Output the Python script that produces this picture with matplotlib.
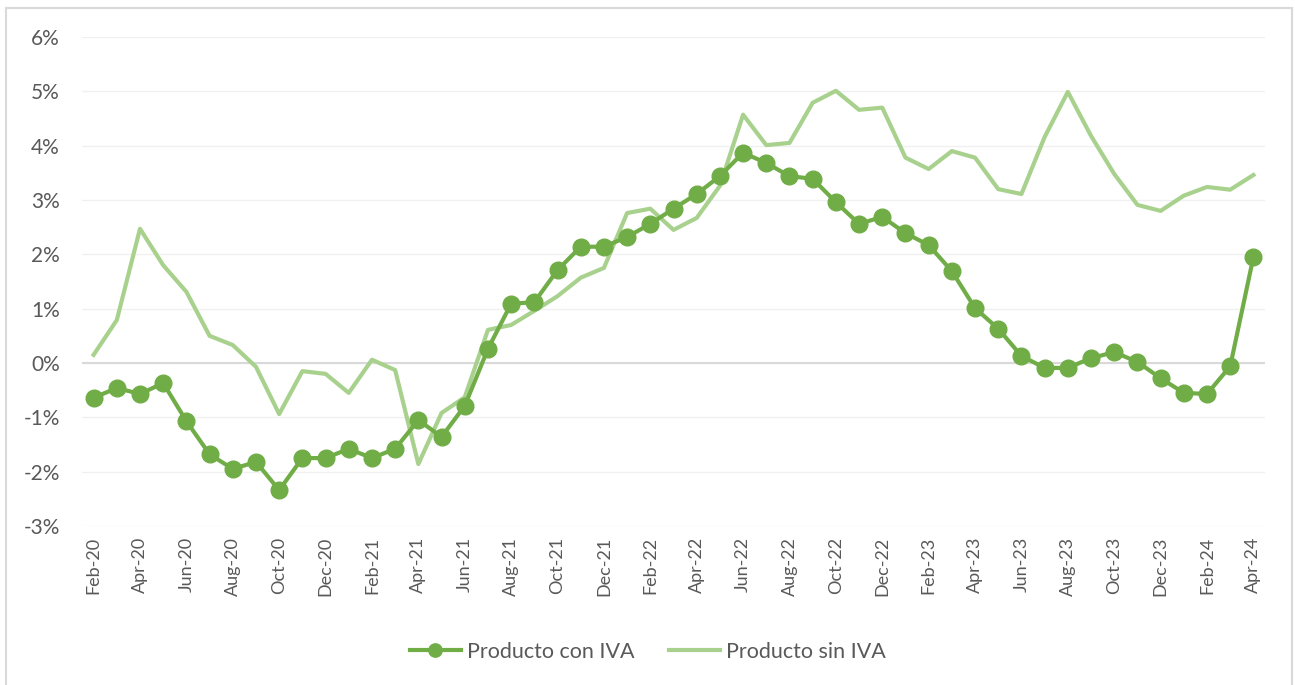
import numpy as np
import pandas as pd
import matplotlib
matplotlib.use("Agg")
import matplotlib.pyplot as plt
from matplotlib.patches import Rectangle
from matplotlib.ticker import FuncFormatter

plt.rcParams['font.family'] = ['Lato', 'DejaVu Sans']

# variacion interanual (%), mensual feb-2020 .. abr-2024
months = pd.date_range("2020-02-01", "2024-04-01", freq="MS")
con_iva = [-0.64, -0.46, -0.57, -0.37, -1.07, -1.68, -1.95, -1.82, -2.34, -1.75, -1.75,
           -1.58, -1.75, -1.58, -1.05, -1.36, -0.79, 0.26, 1.09, 1.12, 1.71, 2.14, 2.14,
           2.32, 2.56, 2.84, 3.11, 3.44, 3.87, 3.68, 3.44, 3.39, 2.96, 2.56, 2.69,
           2.39, 2.17, 1.69, 1.01, 0.63, 0.13, -0.09, -0.09, 0.09, 0.20, 0.02, -0.28,
           -0.55, -0.57, -0.06, 1.95]
sin_iva = [0.15, 0.79, 2.47, 1.80, 1.31, 0.50, 0.33, -0.07, -0.94, -0.15, -0.20,
           -0.55, 0.06, -0.13, -1.86, -0.92, -0.63, 0.61, 0.70, 0.96, 1.23, 1.57, 1.75,
           2.76, 2.84, 2.45, 2.67, 3.26, 4.57, 4.01, 4.05, 4.79, 5.01, 4.66, 4.70,
           3.78, 3.57, 3.90, 3.78, 3.20, 3.11, 4.16, 4.99, 4.18, 3.48, 2.91, 2.80,
           3.08, 3.24, 3.19, 3.46]
labels = [m.strftime("%b-%y") for m in months]

dark = "#70AD47"
light = "#A9D18E"
txt = "#595959"

fig = plt.figure(figsize=(12.95, 6.85), dpi=100)
W, H = 1295, 685
ax = fig.add_axes([82 / W, 1 - 526 / H, (1265 - 82) / W, (526 - 37) / H])

x = np.arange(len(months))
ax.plot(x, con_iva, color=dark, lw=3, marker="o", ms=12, label="Producto con IVA", zorder=3)
ax.plot(x, sin_iva, color=light, lw=3, label="Producto sin IVA", zorder=2)

ax.set_xlim(-0.5, len(months) - 0.5)
ax.set_ylim(-3, 6)
ax.set_yticks(range(-3, 7))
ax.yaxis.set_major_formatter(FuncFormatter(lambda v, p: f"{v:.0f}%"))
ax.grid(axis="y", color="#F0F0F0", lw=1)
ax.axhline(0, color="#D9D9D9", lw=1.5, zorder=1)
ax.set_axisbelow(True)

ax.set_xticks(x[::2])
ax.set_xticklabels(labels[::2], rotation=90)
ax.tick_params(axis="both", length=0, colors=txt)
ax.tick_params(axis="x", labelsize=13, pad=8)
ax.tick_params(axis="y", labelsize=15, pad=16)
for s in ax.spines.values():
    s.set_visible(False)

leg = fig.legend(loc="center", bbox_to_anchor=(0.5, 1 - 652 / H), ncol=2, frameon=False,
                 fontsize=15.5, handlelength=2.4, columnspacing=1.6, handletextpad=0.25,
                 markerscale=0.8)
for t in leg.get_texts():
    t.set_color(txt)

# marco del grafico
fig.patches.append(Rectangle((6 / W, -0.01), (1292 - 6) / W, 1 - 8 / H + 0.01,
                             transform=fig.transFigure, fill=False,
                             edgecolor="#D9D9D9", lw=1.5))

fig.savefig("out.png", dpi=100)
